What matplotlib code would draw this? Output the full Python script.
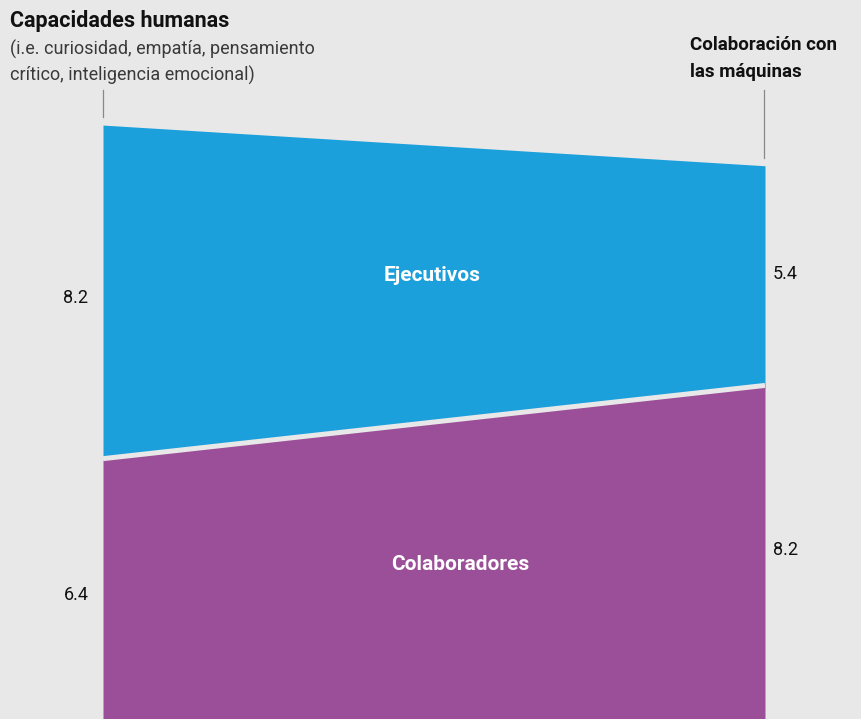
import matplotlib
matplotlib.use("Agg")
import matplotlib.pyplot as plt

# scores for each group on the two dimensions
groups = ["Colaboradores", "Ejecutivos"]
humanas = [6.4, 8.2]      # capacidades humanas (left)
maquinas = [8.2, 5.4]     # colaboración con las máquinas (right)
colors = ["#9c4f99", "#1ca0db"]
bg = "#e8e8e8"

plt.rcParams["font.family"] = ["Roboto", "DejaVu Sans"]

W, H = 861, 719
fig = plt.figure(figsize=(W / 100, H / 100), dpi=100, facecolor=bg)

px_per_unit = 40.68
x0, x1 = 103, 765
ax = fig.add_axes([x0 / W, 0, (x1 - x0) / W, 1])
ax.set_facecolor(bg)
ax.set_xlim(0, 1)
ax.set_ylim(0, H / px_per_unit)
ax.axis("off")

xs = [0, 1]
bottom = [0, 0]
for name, l, r, c in zip(groups, humanas, maquinas, colors):
    top = [bottom[0] + l, bottom[1] + r]
    ax.fill_between(xs, bottom, top, color=c, lw=0)
    bottom = top

# thin separator between the bands
sep = [humanas[0], maquinas[0]]
ax.plot(xs, sep, color=bg, lw=3.6, solid_capstyle="butt")

# value labels on both sides
base_l = base_r = 0
for l, r in zip(humanas, maquinas):
    ax.text(-0.022, base_l + l / 2 - 0.15, f"{l:.1f}", ha="right", va="center",
            fontsize=13, color="#111111")
    ax.text(1.012, base_r + r / 2 + 0.05, f"{r:.1f}", ha="left", va="center",
            fontsize=13, color="#111111")
    base_l += l
    base_r += r

# group names inside the bands
ax.text(0.54, 3.8, groups[0], ha="center", va="center", fontsize=15,
        fontweight="bold", color="white")
ax.text(0.497, 10.9, groups[1], ha="center", va="center", fontsize=15,
        fontweight="bold", color="white")

# column headers and their leader lines
fig.text(10 / W, 1 - 21 / H, "Capacidades humanas", ha="left", va="center",
         fontsize=15.5, fontweight="bold", color="#111111")
fig.text(10 / W, 1 - 49 / H, "(i.e. curiosidad, empatía, pensamiento",
         ha="left", va="center", fontsize=13, color="#3a3a3a")
fig.text(10 / W, 1 - 75 / H, "crítico, inteligencia emocional)",
         ha="left", va="center", fontsize=13, color="#3a3a3a")
fig.text(690 / W, 1 - 45 / H, "Colaboración con", ha="left", va="center",
         fontsize=13.5, fontweight="bold", color="#111111")
fig.text(690 / W, 1 - 72 / H, "las máquinas", ha="left", va="center",
         fontsize=13.5, fontweight="bold", color="#111111")

fig.add_artist(plt.Line2D([102.5 / W, 102.5 / W], [1 - 90 / H, 1 - 117 / H],
                          color="#888888", lw=0.9))
fig.add_artist(plt.Line2D([763.5 / W, 763.5 / W], [1 - 90 / H, 1 - 158 / H],
                          color="#888888", lw=0.9))

fig.savefig("out.png", dpi=100, facecolor=bg)
